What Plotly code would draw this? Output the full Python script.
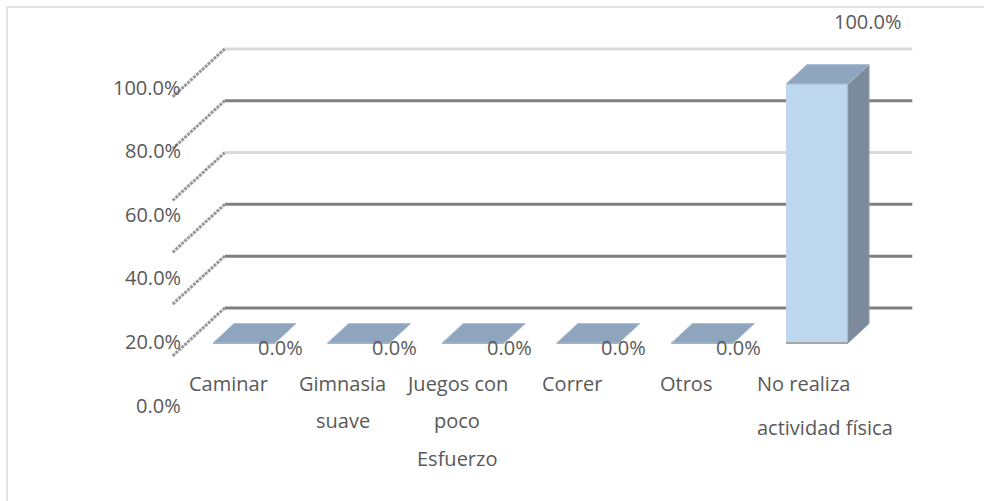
import plotly.graph_objects as go

# ---------------- data ----------------
categories = ["Caminar", "Gimnasia suave", "Juegos con poco Esfuerzo",
              "Correr", "Otros", "No realiza actividad física"]
category_lines = [["Caminar"], ["Gimnasia", "suave"], ["Juegos con", "poco", "Esfuerzo"],
                  ["Correr"], ["Otros"], ["No realiza", "actividad física"]]
values = [0.0, 0.0, 0.0, 0.0, 0.0, 100.0]
value_labels = [f"{v:.1f}%" for v in values]
axis_ticks = [0, 20, 40, 60, 80, 100]
axis_tick_labels = [f"{t:.1f}%" for t in axis_ticks]

# ---------------- style / geometry ----------------
W, H = 984, 501
FONT = "Open Sans"
TXT = "#595959"
X_RANGE = [-2.1291, 6.4572]
Y_RANGE = [-61.0, 132.43]
PX_X = W / (X_RANGE[1] - X_RANGE[0])
PX_Y = H / (Y_RANGE[1] - Y_RANGE[0])
BAR_W_PX = 62
BAR_DEPTH = 21
OBL = 0.923
WALL_FRONT = -14
WALL_BACK = 38
LABEL_SCALE = 1.2278      # value-axis label spacing relative to the bar scale
LABEL_OFFSET = -23.94     # value-axis label baseline offset (axis units)
FRONT_COL = "#BDD7EE"
TOP_COL = "#8EA5BD"
SIDE_COL = "#7C8B9B"
GRID_DARK = "#808080"
GRID_LIGHT = "#D9D9D9"
grid_style = {0: GRID_DARK, 20: GRID_DARK, 40: GRID_DARK, 60: GRID_LIGHT, 80: GRID_DARK, 100: GRID_LIGHT}

idx = list(range(len(categories)))
bw = BAR_W_PX / PX_X


def proj(x, v, d):
    """oblique projection: depth d in pixels"""
    return x + d / PX_X, v + d * OBL / PX_Y


def path(pts):
    return "M " + " L ".join(f"{x:.5f},{y:.5f}" for x, y in pts) + " Z"


shapes = []
# outer border (top and left edges visible)
bx, by = 7 / W, 1 - 7 / H
shapes.append(dict(type="line", xref="paper", yref="paper", x0=bx, x1=1.0, y0=by, y1=by,
                   line=dict(color="#D9D9D9", width=1.5), layer="below"))
shapes.append(dict(type="line", xref="paper", yref="paper", x0=bx, x1=bx, y0=0.0, y1=by,
                   line=dict(color="#D9D9D9", width=1.5), layer="below"))

x_lo, x_hi = idx[0] - 0.5, idx[-1] + 0.5
for t in axis_ticks:
    col = grid_style[t]
    # back wall gridline
    a = proj(x_lo, t, WALL_BACK)
    b = proj(x_hi, t, WALL_BACK)
    shapes.append(dict(type="line", xref="x", yref="y", x0=a[0], y0=a[1], x1=b[0], y1=b[1],
                       line=dict(color=col, width=3), layer="below"))
    # side wall diagonal
    c = proj(x_lo, t, WALL_FRONT)
    shapes.append(dict(type="line", xref="x", yref="y", x0=c[0], y0=c[1], x1=a[0], y1=a[1],
                       line=dict(color="#999999", width=3, dash="3px,1px"), layer="below"))

for i, v in zip(idx, values):
    xl, xr = i - bw / 2, i + bw / 2
    # shadow at base
    shapes.append(dict(type="line", xref="x", yref="y", x0=xl, y0=0, x1=xr, y1=0,
                       line=dict(color="#A6A6A6", width=2), layer="above"))
    if v > 0:
        side = [proj(xr, 0, 0), proj(xr, v, 0), proj(xr, v, BAR_DEPTH), proj(xr, 0, BAR_DEPTH)]
        shapes.append(dict(type="path", xref="x", yref="y", path=path(side),
                           fillcolor=SIDE_COL, line=dict(color="#8C9BAA", width=1), layer="above"))
    top = [proj(xl, v, 0), proj(xr, v, 0), proj(xr, v, BAR_DEPTH), proj(xl, v, BAR_DEPTH)]
    shapes.append(dict(type="path", xref="x", yref="y", path=path(top),
                       fillcolor=TOP_COL, line=dict(color="#A9BED4", width=1), layer="above"))

fig = go.Figure()
fig.add_trace(go.Bar(x=idx, y=values, width=bw, marker=dict(color=FRONT_COL, line=dict(width=0)),
                     hoverinfo="skip", showlegend=False))

annotations = []
# value-axis labels
for t, lab in zip(axis_ticks, axis_tick_labels):
    annotations.append(dict(x=183 / W, xref="paper", y=LABEL_OFFSET + LABEL_SCALE * t, yref="y",
                            text=lab, showarrow=False, xanchor="right", yanchor="middle",
                            font=dict(family=FONT, size=20, color=TXT)))
# category labels
for i, lines in zip(idx, category_lines):
    last = (i == idx[-1])
    gap = 44 if last else 37.5
    for k, line in enumerate(lines):
        annotations.append(dict(x=i, y=0, xref="x", yref="y", text=line, showarrow=False,
                                xanchor="left" if last else "center",
                                xshift=-62 if last else -16, yshift=-(40 + gap * k),
                                font=dict(family=FONT, size=20, color=TXT)))
# data labels
for i, v, lab in zip(idx, values, value_labels):
    annotations.append(dict(x=i, y=v, xref="x", yref="y", text=lab, showarrow=False,
                            xshift=51 if v > 0 else 36, yshift=63 if v > 0 else -4,
                            font=dict(family=FONT, size=20, color=TXT)))

fig.update_layout(
    width=W, height=H, autosize=False,
    margin=dict(l=0, r=0, t=0, b=0, pad=0),
    paper_bgcolor="white", plot_bgcolor="rgba(0,0,0,0)",
    xaxis=dict(range=X_RANGE, visible=False, fixedrange=True),
    yaxis=dict(range=Y_RANGE, visible=False, fixedrange=True),
    shapes=shapes, annotations=annotations,
    bargap=0, showlegend=False,
)

fig.write_html("out.html", config={"displayModeBar": False, "staticPlot": True},
               post_script="document.body.style.margin='0';document.body.style.overflow='hidden';")
